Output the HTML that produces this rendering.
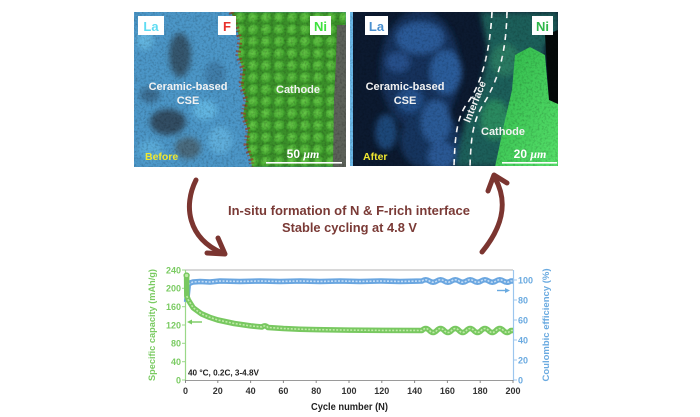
<!DOCTYPE html>
<html><head><meta charset="utf-8"><style>
html,body{margin:0;padding:0;background:#fff;}
svg{display:block;font-family:"Liberation Sans",Arial,sans-serif;}
</style></head><body>
<svg width="700" height="417" viewBox="0 0 700 417" xmlns="http://www.w3.org/2000/svg">
<defs>
  <clipPath id="cl"><rect x="134" y="12" width="212" height="155"/></clipPath>
  <clipPath id="cr"><rect x="350" y="12" width="208" height="154"/></clipPath>
  <clipPath id="cg"><polygon points="231,12 236,25 240,40 238,55 243,70 241,85 246,100 243,115 248,130 246,145 251,160 252,167 346,167 346,12"/></clipPath>
  <radialGradient id="pg" cx="0.4" cy="0.4" r="0.6">
    <stop offset="0" stop-color="#6acb4a"/><stop offset="0.8" stop-color="#45a830"/><stop offset="1" stop-color="#348a26"/>
  </radialGradient>
  <pattern id="part" x="0" y="0" width="13" height="12" patternUnits="userSpaceOnUse">
    <rect width="13" height="12" fill="#3a8f2a"/>
    <circle cx="6.5" cy="6" r="5.6" fill="url(#pg)"/>
  </pattern>
  <filter id="noise" x="0" y="0" width="100%" height="100%">
    <feTurbulence type="fractalNoise" baseFrequency="0.45" numOctaves="2" seed="4"/>
    <feColorMatrix type="matrix" values="0 0 0 0 0  0 0 0 0 0  0 0 0 0 0  0 0 0 -2.2 1.25"/>
  </filter>
  <filter id="blur" x="-20%" y="-20%" width="140%" height="140%"><feGaussianBlur stdDeviation="3"/></filter>
  <filter id="blur1"><feGaussianBlur stdDeviation="0.6"/></filter>
  <linearGradient id="bg2" x1="0" y1="0" x2="1" y2="1">
    <stop offset="0" stop-color="#2fb84a"/><stop offset="1" stop-color="#56e06a"/>
  </linearGradient>
</defs>

<!-- LEFT IMAGE -->
<g clip-path="url(#cl)">
  <rect x="134" y="12" width="212" height="155" fill="#4c97c8"/>
  <g filter="url(#blur)">
    <ellipse cx="180" cy="55" rx="11" ry="22" fill="#35566e"/>
    <ellipse cx="168" cy="122" rx="18" ry="13" fill="#304e64"/>
    <ellipse cx="188" cy="148" rx="13" ry="11" fill="#4a6a7e"/>
    <ellipse cx="150" cy="95" rx="10" ry="8" fill="#3a6d92"/>
    <ellipse cx="215" cy="75" rx="10" ry="14" fill="#3f7eaa"/>
    <ellipse cx="145" cy="40" rx="8" ry="10" fill="#64b6e0"/>
    <ellipse cx="205" cy="110" rx="12" ry="10" fill="#62b6e2"/>
    <ellipse cx="220" cy="140" rx="12" ry="14" fill="#5eaedb"/>
    <ellipse cx="150" cy="150" rx="12" ry="10" fill="#5aaad8"/>
  </g>
  <rect x="231" y="12" width="115" height="155" fill="url(#part)" clip-path="url(#cg)" filter="url(#blur1)"/>
  <polygon points="337,25 346,25 346,167 333,167 334,100 336,60" fill="#5d625a"/>
  <polyline points="231,12 236,25 240,40 238,55 243,70 241,85 246,100 243,115 248,130 246,145 251,160 252,167" fill="none" stroke="#9a3a22" stroke-width="5" stroke-dasharray="2 2 1 3" opacity="0.7"/>
  <rect x="134" y="12" width="212" height="155" filter="url(#noise)" opacity="0.22"/>
</g>
<g font-weight="bold">
  <rect x="138" y="16" width="26" height="19" fill="#fff"/>
  <text x="151" y="31" font-size="13" fill="#5fdcf2" text-anchor="middle">La</text>
  <rect x="218" y="16" width="18" height="19" fill="#fff"/>
  <text x="227" y="31" font-size="13" fill="#e8302a" text-anchor="middle">F</text>
  <rect x="310" y="16" width="21" height="19" fill="#fff"/>
  <text x="320.5" y="31" font-size="13" fill="#3ee23e" text-anchor="middle">Ni</text>
  <text x="188" y="90" font-size="11" fill="#f2f2f2" text-anchor="middle">Ceramic-based</text>
  <text x="188" y="104" font-size="11" fill="#f2f2f2" text-anchor="middle">CSE</text>
  <text x="298" y="93" font-size="11" fill="#f2f2f2" text-anchor="middle">Cathode</text>
  <text x="145" y="160" font-size="10.5" fill="#f0e830">Before</text>
  <text x="303" y="158" font-size="12" fill="#fff" text-anchor="middle">50 <tspan font-family="Liberation Serif" font-style="italic">μm</tspan></text>
  <rect x="266" y="162" width="76" height="1.6" fill="#fff"/>
</g>

<!-- RIGHT IMAGE -->
<g clip-path="url(#cr)">
  <rect x="350" y="12" width="208" height="154" fill="#0c1a30"/>
  <g filter="url(#blur)">
    <ellipse cx="420" cy="70" rx="40" ry="60" fill="#16325c"/>
    <ellipse cx="430" cy="140" rx="30" ry="30" fill="#18365f"/>
    <ellipse cx="420" cy="38" rx="24" ry="16" fill="#2a5a98"/>
    <ellipse cx="446" cy="72" rx="16" ry="22" fill="#2c5c9a"/>
    <ellipse cx="398" cy="62" rx="12" ry="10" fill="#26508a"/>
    <ellipse cx="436" cy="122" rx="15" ry="22" fill="#2a5a96"/>
    <ellipse cx="442" cy="156" rx="14" ry="14" fill="#2a5894"/>
    <ellipse cx="386" cy="132" rx="11" ry="18" fill="#1f4678"/>
    <ellipse cx="410" cy="100" rx="13" ry="13" fill="#23508a"/>
    <polygon points="480,12 558,12 558,40 545,45 540,100 520,110 505,167 455,167 465,120 480,90 488,50" fill="#1d5e5a"/>
    <ellipse cx="505" cy="60" rx="14" ry="16" fill="#2a7a62"/>
    <ellipse cx="495" cy="120" rx="14" ry="20" fill="#2a8a60"/>
  </g>
  <polygon points="545,35 558,30 558,105 549,100" fill="#050a0a"/>
  <polygon points="515,55 530,47 545,55 549,100 558,104 558,167 495,167 505,120 512,90" fill="url(#bg2)"/>
  <rect x="350" y="12" width="3" height="154" fill="#6ab8e8"/>
  <path d="M492,12 C490,50 482,85 466,105 C456,120 455,140 454,166" fill="none" stroke="#fff" stroke-width="1.6" stroke-dasharray="6 5"/>
  <path d="M507,12 C506,50 500,75 486,100 C472,120 471,140 470,166" fill="none" stroke="#fff" stroke-width="1.6" stroke-dasharray="6 5"/>
  <rect x="350" y="12" width="208" height="154" filter="url(#noise)" opacity="0.2"/>
</g>
<g font-weight="bold">
  <rect x="365" y="16" width="23" height="19" fill="#fff"/>
  <text x="376.5" y="31" font-size="13" fill="#4a90d0" text-anchor="middle">La</text>
  <rect x="532" y="16" width="21" height="19" fill="#fff"/>
  <text x="542.5" y="31" font-size="13" fill="#2eb84a" text-anchor="middle">Ni</text>
  <text x="405" y="90" font-size="11" fill="#f2f2f2" text-anchor="middle">Ceramic-based</text>
  <text x="405" y="104" font-size="11" fill="#f2f2f2" text-anchor="middle">CSE</text>
  <text x="503" y="135" font-size="11" fill="#f2f2f2" text-anchor="middle">Cathode</text>
  <text transform="translate(478,103) rotate(-68)" font-size="10.5" fill="#f2f2f2" text-anchor="middle">Interface</text>
  <text x="363" y="160" font-size="10.5" fill="#f0e830">After</text>
  <text x="530" y="158" font-size="12" fill="#fff" text-anchor="middle">20 <tspan font-family="Liberation Serif" font-style="italic">μm</tspan></text>
  <rect x="502" y="162" width="55" height="1.6" fill="#fff"/>
</g>

<!-- ARROWS & MIDDLE TEXT -->
<g fill="none" stroke="#7b3530" stroke-width="5" stroke-linecap="round" stroke-linejoin="round">
  <path d="M196,180 C183,206 188,238 222,253"/>
  <polyline points="207,253 225,254 218,238"/>
  <path d="M482,252 C500,230 510,205 495,178"/>
  <polyline points="488,191 494,175 507,183"/>
</g>
<text x="349" y="215" font-size="12.5" font-weight="bold" fill="#7a3a36" text-anchor="middle" textLength="242" lengthAdjust="spacingAndGlyphs">In-situ formation of N &amp; F-rich interface</text>
<text x="349.5" y="232" font-size="12.5" font-weight="bold" fill="#7a3a36" text-anchor="middle" textLength="135" lengthAdjust="spacingAndGlyphs">Stable cycling at 4.8 V</text>

<!-- CHART -->
<g>
  <line x1="185" y1="270" x2="513" y2="270" stroke="#b0b0b0" stroke-width="1"/>
  <line x1="185" y1="380.5" x2="513" y2="380.5" stroke="#9a9a9a" stroke-width="1"/>
  <line x1="185.5" y1="270" x2="185.5" y2="381" stroke="#9ad888" stroke-width="1.2"/>
  <line x1="513.5" y1="270" x2="513.5" y2="381" stroke="#9cc6ee" stroke-width="1.2"/>
  <g stroke="#9ad888" stroke-width="1">
    <line x1="182" y1="270" x2="185" y2="270"/><line x1="182" y1="288.3" x2="185" y2="288.3"/>
    <line x1="182" y1="306.7" x2="185" y2="306.7"/><line x1="182" y1="325" x2="185" y2="325"/>
    <line x1="182" y1="343.3" x2="185" y2="343.3"/><line x1="182" y1="361.7" x2="185" y2="361.7"/>
    <line x1="182" y1="380" x2="185" y2="380"/>
  </g>
  <g stroke="#9cc6ee" stroke-width="1">
    <line x1="513" y1="280" x2="517" y2="280"/><line x1="513" y1="300" x2="517" y2="300"/>
    <line x1="513" y1="320" x2="517" y2="320"/><line x1="513" y1="340" x2="517" y2="340"/>
    <line x1="513" y1="360" x2="517" y2="360"/><line x1="513" y1="380" x2="517" y2="380"/>
  </g>
  <g stroke="#888" stroke-width="1">
    <line x1="185.5" y1="380" x2="185.5" y2="383"/><line x1="217.8" y1="380" x2="217.8" y2="383"/>
    <line x1="250.6" y1="380" x2="250.6" y2="383"/><line x1="283.4" y1="380" x2="283.4" y2="383"/>
    <line x1="316.2" y1="380" x2="316.2" y2="383"/><line x1="349" y1="380" x2="349" y2="383"/>
    <line x1="381.8" y1="380" x2="381.8" y2="383"/><line x1="414.6" y1="380" x2="414.6" y2="383"/>
    <line x1="447.4" y1="380" x2="447.4" y2="383"/><line x1="480.2" y1="380" x2="480.2" y2="383"/>
    <line x1="513" y1="380" x2="513" y2="383"/>
  </g>
  <g font-size="9" font-weight="bold" fill="#7acb62" text-anchor="end">
    <text x="181" y="273.3">240</text><text x="181" y="291.6">200</text>
    <text x="181" y="310">160</text><text x="181" y="328.3">120</text>
    <text x="181" y="346.6">80</text><text x="181" y="365">40</text>
    <text x="181" y="383.3">0</text>
  </g>
  <g font-size="9" font-weight="bold" fill="#6aaae0">
    <text x="518" y="283.3">100</text><text x="518" y="303.3">80</text>
    <text x="518" y="323.3">60</text><text x="518" y="343.3">40</text>
    <text x="518" y="363.3">20</text><text x="518" y="383.3">0</text>
  </g>
  <g font-size="9" font-weight="bold" fill="#333" text-anchor="middle">
    <text x="185.5" y="394">0</text><text x="217.8" y="394">20</text>
    <text x="250.6" y="394">40</text><text x="283.4" y="394">60</text>
    <text x="316.2" y="394">80</text><text x="349" y="394">100</text>
    <text x="381.8" y="394">120</text><text x="414.6" y="394">140</text>
    <text x="447.4" y="394">160</text><text x="480.2" y="394">180</text>
    <text x="513" y="394">200</text>
  </g>
  <text x="349.5" y="410" font-size="10" font-weight="bold" fill="#222" text-anchor="middle" textLength="77" lengthAdjust="spacingAndGlyphs">Cycle number (N)</text>
  <text transform="translate(155,325) rotate(-90)" font-size="9.5" font-weight="bold" fill="#7acb62" text-anchor="middle" textLength="112" lengthAdjust="spacingAndGlyphs">Specific capacity (mAh/g)</text>
  <text transform="translate(549,325) rotate(-90)" font-size="9.5" font-weight="bold" fill="#6aaae0" text-anchor="middle" textLength="113" lengthAdjust="spacingAndGlyphs">Coulombic efficiency (%)</text>
  <text x="188" y="375.5" font-size="8" font-weight="bold" fill="#222" textLength="71" lengthAdjust="spacingAndGlyphs">40 °C, 0.2C, 3-4.8V</text>

  <!-- blue CE series -->
  <g fill="none" stroke-linejoin="round">
    <path d="M186.6,302 L188.3,285 L190,283 L193,282 L200,281.5 L210,282 L220,281 L240,281.5 L260,281 L280,281.5 L300,281 L320,281.5 L340,281 L360,281.5 L380,281 L400,281.5 L422,281 Q425.7,278.5 429.4,281 T436.8,281 T444.2,281 T451.6,281 T459,281 T466.4,281 T473.8,281 T481.2,281 T488.6,281 T496,281 T503.4,281 T510.8,281 L513,281" stroke="#6aa6e0" stroke-width="5.5"/>
    <path d="M186.6,302 L188.3,285 L190,283 L193,282 L200,281.5 L210,282 L220,281 L240,281.5 L260,281 L280,281.5 L300,281 L320,281.5 L340,281 L360,281.5 L380,281 L400,281.5 L422,281 Q425.7,278.5 429.4,281 T436.8,281 T444.2,281 T451.6,281 T459,281 T466.4,281 T473.8,281 T481.2,281 T488.6,281 T496,281 T503.4,281 T510.8,281 L513,281" stroke="#c4ddf6" stroke-width="1.6" stroke-dasharray="2 1.5"/>
  </g>
  <!-- green capacity series -->
  <g fill="none" stroke-linejoin="round">
    <path d="M186.6,275.5 L186.8,296 L188.3,300 L193.2,307.8 L201.4,313.8 L209.6,317.3 L217.8,320 L234.2,323.5 L250.6,325.9 L262,327 Q265,324.5 268,327.5 L283.4,328.5 L299.8,329.2 L316.2,329.6 L349,330.1 L381.8,330.4 L422,330.5 Q425.7,326.5 429.4,330.5 T436.8,330.5 T444.2,330.5 T451.6,330.5 T459,330.5 T466.4,330.5 T473.8,330.5 T481.2,330.5 T488.6,330.5 T496,330.5 T503.4,330.5 T510.8,330.5 L513,330.5" stroke="#78c860" stroke-width="5.5"/>
    <path d="M186.8,296 L188.3,300 L193.2,307.8 L201.4,313.8 L209.6,317.3 L217.8,320 L234.2,323.5 L250.6,325.9 L262,327 Q265,324.5 268,327.5 L283.4,328.5 L299.8,329.2 L316.2,329.6 L349,330.1 L381.8,330.4 L422,330.5 Q425.7,326.5 429.4,330.5 T436.8,330.5 T444.2,330.5 T451.6,330.5 T459,330.5 T466.4,330.5 T473.8,330.5 T481.2,330.5 T488.6,330.5 T496,330.5 T503.4,330.5 T510.8,330.5 L513,330.5" stroke="#c0eaa8" stroke-width="1.6" stroke-dasharray="2 1.5"/>
    <circle cx="186.6" cy="275.5" r="2.4" stroke="#78c860" stroke-width="1.5" fill="#c0eaa8"/>
  </g>
  <g stroke-width="1.4">
    <line x1="189" y1="322" x2="202" y2="322" stroke="#7acb62"/>
    <polygon points="187,322 192,319.5 192,324.5" fill="#7acb62"/>
    <line x1="497" y1="290.5" x2="508" y2="290.5" stroke="#6aaae0"/>
    <polygon points="510,290.5 505,288 505,293" fill="#6aaae0"/>
  </g>
</g>
</svg>
</body></html>
